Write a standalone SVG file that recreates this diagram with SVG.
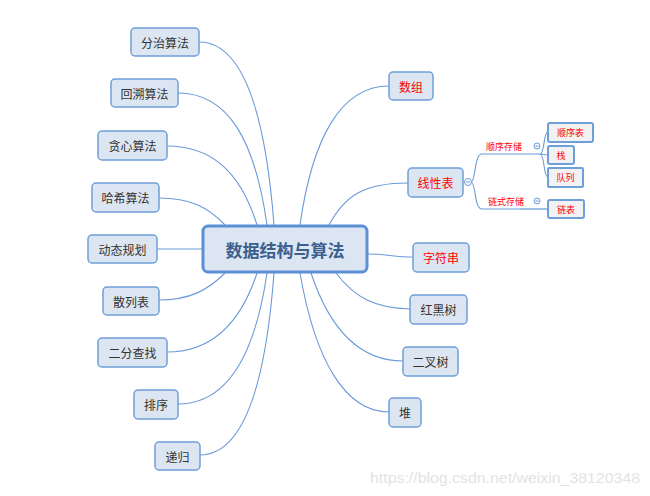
<svg xmlns="http://www.w3.org/2000/svg" width="650" height="496" viewBox="0 0 650 496">
<style>
.n{fill:#dce6f2;stroke:#6f9fd8;stroke-width:1.5}
.t{font-family:"Microsoft YaHei","Noto Sans CJK SC",sans-serif;font-size:12px;fill:#333;text-anchor:middle;dominant-baseline:central}
.r{fill:#ff0000}
.c{fill:none;stroke:#6a9ad8;stroke-width:1.1}
.leaf{fill:#f2f2f2;stroke:#6f9fd8;stroke-width:2}
.s{font-family:"Noto Sans CJK SC",sans-serif;font-size:9px;fill:#ff0000;text-anchor:middle;dominant-baseline:central}
.tog{fill:#fff;stroke:#6a9ad8;stroke-width:1}
</style>
<rect width="650" height="496" fill="#fff"/>
<g id="connectors">
<path class="c" d="M274,225 C266,120 245,42 199,42"/>
<path class="c" d="M267,225 C255,140 228,93 178,93"/>
<path class="c" d="M257,225 C240,170 210,146 167,146"/>
<path class="c" d="M225,225 C208,207 190,198 159,198"/>
<path class="c" d="M157,249 L202,249"/>
<path class="c" d="M225,273 C208,290 190,300 159,300"/>
<path class="c" d="M257,273 C240,325 210,352 167,352"/>
<path class="c" d="M267,273 C255,355 228,404 178,404"/>
<path class="c" d="M274,273 C266,380 245,455 200,455"/>
<path class="c" d="M300,225 C312,140 340,86 389,86"/>
<path class="c" d="M329,225 C345,195 365,183 408,183"/>
<path class="c" d="M368,254 C385,254 395,257 413,257"/>
<path class="c" d="M336,273 C355,298 375,308 410,309"/>
<path class="c" d="M311,273 C330,330 360,361 403,361"/>
<path class="c" d="M300,273 C315,360 345,412 389,412"/>
<path class="c" d="M471,182 C476,182 474,154 482,154 L540,154"/>
<path class="c" d="M471,182 C476,182 474,209 482,209 L520,209"/>
<path d="M520,209 L548,209" fill="none" stroke="#9dbfe8" stroke-width="2"/>
<path class="c" d="M540,154 C545,154 543,132 548,132"/>
<path class="c" d="M540,154 L548,155"/>
<path class="c" d="M540,154 C545,154 543,177 548,177"/>
</g>
<g id="center">
<rect x="203" y="226" width="164" height="46" rx="5" fill="#dce6f2" stroke="#5b8fd6" stroke-width="3"/>
<text x="285" y="249" font-family="'Microsoft YaHei','Noto Sans CJK SC',sans-serif" font-size="17" font-weight="bold" fill="#3b5f8f" text-anchor="middle" dominant-baseline="central">数据结构与算法</text>
</g>
<g id="n-fenzhi"><rect class="n" x="131" y="28" width="68" height="28" rx="4"/><text class="t" x="165" y="42">分治算法</text></g>
<g id="n-huisu"><rect class="n" x="111" y="79" width="67" height="28" rx="4"/><text class="t" x="144.5" y="93">回溯算法</text></g>
<g id="n-tanxin"><rect class="n" x="98" y="131" width="69" height="29" rx="4"/><text class="t" x="132.5" y="145.5">贪心算法</text></g>
<g id="n-haxi"><rect class="n" x="92" y="183" width="67" height="29" rx="4"/><text class="t" x="125.5" y="197.5">哈希算法</text></g>
<g id="n-dongtai"><rect class="n" x="88" y="235" width="69" height="28" rx="4"/><text class="t" x="122.5" y="249">动态规划</text></g>
<g id="n-sanlie"><rect class="n" x="103" y="287" width="56" height="28" rx="4"/><text class="t" x="131" y="301">散列表</text></g>
<g id="n-erfen"><rect class="n" x="98" y="338" width="69" height="29" rx="4"/><text class="t" x="132.5" y="352.5">二分查找</text></g>
<g id="n-paixu"><rect class="n" x="134" y="390" width="44" height="29" rx="4"/><text class="t" x="156" y="404.5">排序</text></g>
<g id="n-digui"><rect class="n" x="155" y="442" width="45" height="28" rx="4"/><text class="t" x="177.5" y="456">递归</text></g>
<g id="n-shuzu"><rect class="n" x="389" y="72" width="44" height="28" rx="4"/><text class="t r" x="411" y="86">数组</text></g>
<g id="n-xianxing"><rect class="n" x="408" y="168" width="55" height="29" rx="4"/><text class="t r" x="435.5" y="182.5" font-size="13">线性表</text>
<circle class="tog" cx="468" cy="182" r="3.5"/><path d="M466,182 H470" stroke="#6a9ad8"/></g>
<g id="n-zifu"><rect class="n" x="413" y="243" width="56" height="29" rx="4"/><text class="t r" x="441" y="257.5">字符串</text></g>
<g id="n-honghei"><rect class="n" x="410" y="295" width="57" height="29" rx="4"/><text class="t" x="438.5" y="309.5">红黑树</text></g>
<g id="n-erchashu"><rect class="n" x="403" y="347" width="55" height="29" rx="4"/><text class="t" x="430.5" y="361.5">二叉树</text></g>
<g id="n-dui"><rect class="n" x="389" y="398" width="32" height="29" rx="4"/><text class="t" x="405" y="412.5">堆</text></g>
<g id="b-shunxu"><text class="s" x="504" y="146">顺序存储</text>
<circle class="tog" cx="537" cy="146" r="3"/><path d="M535.3,146 H538.7" stroke="#6a9ad8"/></g>
<g id="b-lianshi"><text class="s" x="506" y="201">链式存储</text>
<circle class="tog" cx="537" cy="201" r="3"/><path d="M535.3,201 H538.7" stroke="#6a9ad8"/></g>
<g id="l-shunxubiao"><rect class="leaf" x="548" y="123" width="45" height="19" rx="2"/><text class="s" x="570.5" y="132.5">顺序表</text></g>
<g id="l-zhan"><rect class="leaf" x="548" y="146" width="26" height="18" rx="2"/><text class="s" x="561" y="155">栈</text></g>
<g id="l-duilie"><rect class="leaf" x="548" y="168" width="35" height="19" rx="1" stroke="#7a8a9c" stroke-width="1"/><text class="s" x="565.5" y="177.5">队列</text></g>
<g id="l-lianbiao"><rect class="leaf" x="548" y="200" width="36" height="18" rx="2"/><text class="s" x="566" y="209">链表</text></g>
<text x="370" y="483" font-family="'Liberation Sans',Arial,sans-serif" font-size="15" fill="#e3e3e3" textLength="270" lengthAdjust="spacingAndGlyphs">https://blog.csdn.net/weixin_38120348</text>
</svg>
